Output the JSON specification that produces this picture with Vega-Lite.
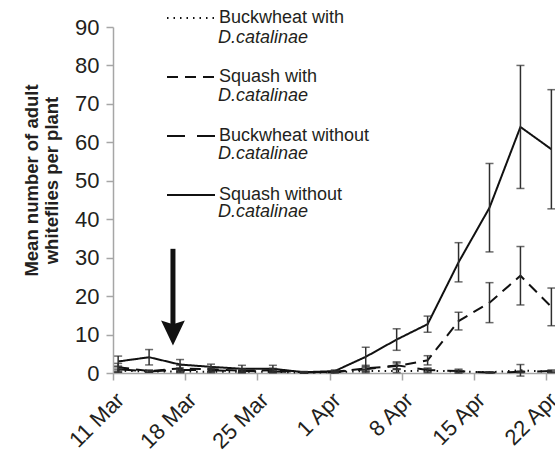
{
  "$schema": "https://vega.github.io/schema/vega-lite/v6.json",
  "width": 442,
  "height": 346,
  "autosize": "none",
  "padding": {"left": 113, "top": 27, "right": 0, "bottom": 79},
  "background": "white",
  "config": {
    "view": {"stroke": null},
    "font": "Liberation Sans",
    "axis": {
      "grid": false,
      "domainColor": "#a6a6a6",
      "domainWidth": 1.5,
      "tickColor": "#a6a6a6",
      "tickWidth": 1.5,
      "tickSize": 7,
      "labelFont": "Liberation Sans",
      "labelFontSize": 22,
      "labelColor": "#231f20",
      "labelOverlap": false,
      "titleFont": "Liberation Sans",
      "titleColor": "#231f20"
    },
    "axisY": {
      "labelPadding": 7,
      "titleFontSize": 18.5,
      "titleFontWeight": "bold",
      "titleAngle": -90,
      "titleBaseline": "top",
      "titleAlign": "center",
      "titleLineHeight": 20,
      "titleX": -91,
      "titleY": 153
    }
  },
  "datasets": {
    "counts": [
      {"date": "2013-03-11T12:00", "series": "Squash without", "mean": 3.0, "se": 1.4},
      {"date": "2013-03-14T12:00", "series": "Squash without", "mean": 4.1, "se": 2.0},
      {"date": "2013-03-17T12:00", "series": "Squash without", "mean": 2.2, "se": 1.3},
      {"date": "2013-03-20T12:00", "series": "Squash without", "mean": 1.6, "se": 0.7},
      {"date": "2013-03-23T12:00", "series": "Squash without", "mean": 1.1, "se": 0.9},
      {"date": "2013-03-26T12:00", "series": "Squash without", "mean": 1.1, "se": 0.9},
      {"date": "2013-03-29T12:00", "series": "Squash without", "mean": 0.2, "se": 0.2},
      {"date": "2013-04-01T12:00", "series": "Squash without", "mean": 0.5, "se": 0.3},
      {"date": "2013-04-04T12:00", "series": "Squash without", "mean": 4.2, "se": 2.5},
      {"date": "2013-04-07T12:00", "series": "Squash without", "mean": 8.7, "se": 2.8},
      {"date": "2013-04-10T12:00", "series": "Squash without", "mean": 12.7, "se": 2.1},
      {"date": "2013-04-13T12:00", "series": "Squash without", "mean": 28.8, "se": 5.1},
      {"date": "2013-04-16T12:00", "series": "Squash without", "mean": 43.0, "se": 11.5},
      {"date": "2013-04-19T12:00", "series": "Squash without", "mean": 64.0, "se": 16.0},
      {"date": "2013-04-22T12:00", "series": "Squash without", "mean": 58.2, "se": 15.5},

      {"date": "2013-03-11T12:00", "series": "Squash with", "mean": 1.5, "se": 1.0},
      {"date": "2013-03-14T12:00", "series": "Squash with", "mean": 0.5, "se": 0.3},
      {"date": "2013-03-17T12:00", "series": "Squash with", "mean": 1.2, "se": 0.8},
      {"date": "2013-03-20T12:00", "series": "Squash with", "mean": 1.0, "se": 0.6},
      {"date": "2013-03-23T12:00", "series": "Squash with", "mean": 0.6, "se": 0.5},
      {"date": "2013-03-26T12:00", "series": "Squash with", "mean": 0.7, "se": 0.5},
      {"date": "2013-03-29T12:00", "series": "Squash with", "mean": 0.2, "se": 0.1},
      {"date": "2013-04-01T12:00", "series": "Squash with", "mean": 0.3, "se": 0.2},
      {"date": "2013-04-04T12:00", "series": "Squash with", "mean": 1.2, "se": 0.8},
      {"date": "2013-04-07T12:00", "series": "Squash with", "mean": 1.8, "se": 0.8},
      {"date": "2013-04-10T12:00", "series": "Squash with", "mean": 3.3, "se": 1.2},
      {"date": "2013-04-13T12:00", "series": "Squash with", "mean": 13.5, "se": 2.3},
      {"date": "2013-04-16T12:00", "series": "Squash with", "mean": 18.3, "se": 5.2},
      {"date": "2013-04-19T12:00", "series": "Squash with", "mean": 25.3, "se": 7.6},
      {"date": "2013-04-22T12:00", "series": "Squash with", "mean": 17.2, "se": 4.9},

      {"date": "2013-03-11T12:00", "series": "Buckwheat without", "mean": 1.0, "se": 0.8},
      {"date": "2013-03-14T12:00", "series": "Buckwheat without", "mean": 0.4, "se": 0.2},
      {"date": "2013-03-17T12:00", "series": "Buckwheat without", "mean": 0.8, "se": 0.5},
      {"date": "2013-03-20T12:00", "series": "Buckwheat without", "mean": 0.7, "se": 0.4},
      {"date": "2013-03-23T12:00", "series": "Buckwheat without", "mean": 0.5, "se": 0.3},
      {"date": "2013-03-26T12:00", "series": "Buckwheat without", "mean": 0.4, "se": 0.3},
      {"date": "2013-03-29T12:00", "series": "Buckwheat without", "mean": 0.2, "se": 0.1},
      {"date": "2013-04-01T12:00", "series": "Buckwheat without", "mean": 0.2, "se": 0.1},
      {"date": "2013-04-04T12:00", "series": "Buckwheat without", "mean": 1.0, "se": 0.5},
      {"date": "2013-04-07T12:00", "series": "Buckwheat without", "mean": 2.0, "se": 0.9},
      {"date": "2013-04-10T12:00", "series": "Buckwheat without", "mean": 0.8, "se": 0.5},
      {"date": "2013-04-13T12:00", "series": "Buckwheat without", "mean": 0.5, "se": 0.5},
      {"date": "2013-04-16T12:00", "series": "Buckwheat without", "mean": 0.1, "se": 0.1},
      {"date": "2013-04-19T12:00", "series": "Buckwheat without", "mean": 0.3, "se": 0.2},
      {"date": "2013-04-22T12:00", "series": "Buckwheat without", "mean": 0.5, "se": 0.3},

      {"date": "2013-03-11T12:00", "series": "Buckwheat with", "mean": 0.6, "se": 0.4},
      {"date": "2013-03-14T12:00", "series": "Buckwheat with", "mean": 0.4, "se": 0.2},
      {"date": "2013-03-17T12:00", "series": "Buckwheat with", "mean": 0.4, "se": 0.3},
      {"date": "2013-03-20T12:00", "series": "Buckwheat with", "mean": 0.3, "se": 0.2},
      {"date": "2013-03-23T12:00", "series": "Buckwheat with", "mean": 0.3, "se": 0.2},
      {"date": "2013-03-26T12:00", "series": "Buckwheat with", "mean": 0.3, "se": 0.2},
      {"date": "2013-03-29T12:00", "series": "Buckwheat with", "mean": 0.1, "se": 0.1},
      {"date": "2013-04-01T12:00", "series": "Buckwheat with", "mean": 0.2, "se": 0.1},
      {"date": "2013-04-04T12:00", "series": "Buckwheat with", "mean": 0.5, "se": 0.4},
      {"date": "2013-04-07T12:00", "series": "Buckwheat with", "mean": 0.5, "se": 0.4},
      {"date": "2013-04-10T12:00", "series": "Buckwheat with", "mean": 0.6, "se": 0.5},
      {"date": "2013-04-13T12:00", "series": "Buckwheat with", "mean": 0.4, "se": 0.3},
      {"date": "2013-04-16T12:00", "series": "Buckwheat with", "mean": 0.2, "se": 0.1},
      {"date": "2013-04-19T12:00", "series": "Buckwheat with", "mean": 0.7, "se": 1.5},
      {"date": "2013-04-22T12:00", "series": "Buckwheat with", "mean": 0.3, "se": 0.2}
    ],
    "arrow": [
      {"date": "2013-03-16T19:30", "top": 32.3, "bottom": 10.4}
    ]
  },
  "encoding": {
    "x": {
      "field": "date",
      "type": "temporal",
      "scale": {
        "domain": [
          {"year": 2013, "month": 3, "date": 11},
          {"year": 2013, "month": 4, "date": 22, "hours": 20, "minutes": 24}
        ],
        "nice": false
      },
      "axis": {
        "title": null,
        "values": [
          {"year": 2013, "month": 3, "date": 11},
          {"year": 2013, "month": 3, "date": 18},
          {"year": 2013, "month": 3, "date": 25},
          {"year": 2013, "month": 4, "date": 1},
          {"year": 2013, "month": 4, "date": 8},
          {"year": 2013, "month": 4, "date": 15},
          {"year": 2013, "month": 4, "date": 22}
        ],
        "format": "%-d %b",
        "labelAngle": -45,
        "labelPadding": 9
      }
    }
  },
  "layer": [
    {
      "data": {"name": "counts"},
      "mark": {"type": "line", "strokeWidth": 2},
      "encoding": {
        "y": {
          "field": "mean",
          "type": "quantitative",
          "scale": {"domain": [0, 90], "nice": false},
          "axis": {
            "values": [0, 10, 20, 30, 40, 50, 60, 70, 80, 90],
            "title": ["Mean number of adult", "whiteflies per plant"]
          }
        },
        "strokeDash": {
          "field": "series",
          "type": "nominal",
          "scale": {
            "domain": ["Buckwheat with", "Squash with", "Buckwheat without", "Squash without"],
            "range": [[1.5, 5], [11, 7], [18, 12], [1, 0]]
          },
          "legend": {
            "orient": "none",
            "legendX": 53,
            "legendY": -34,
            "title": null,
            "symbolType": "stroke",
            "symbolSize": 2304,
            "symbolStrokeWidth": 2,
            "symbolStrokeColor": "#111111",
            "labelFont": "Liberation Sans",
            "labelFontSize": 18,
            "labelColor": "#231f20",
            "labelOffset": 3,
            "labelLimit": 300,
            "rowPadding": 25
          }
        },
        "color": {
          "field": "series",
          "type": "nominal",
          "sort": ["Buckwheat with", "Squash with", "Buckwheat without", "Squash without"],
          "scale": {"range": ["#111111", "#111111", "#111111", "#111111"]},
          "legend": {
            "orient": "none",
            "legendX": 54,
            "legendY": -13,
            "title": null,
            "symbolType": "stroke",
            "symbolSize": 2304,
            "symbolStrokeWidth": 0,
            "symbolOpacity": 0,
            "labelExpr": "'D.catalinae'",
            "labelFont": "Liberation Sans",
            "labelFontStyle": "italic",
            "labelFontSize": 18,
            "labelColor": "#231f20",
            "labelOffset": 3,
            "rowPadding": 25
          }
        }
      }
    },
    {
      "data": {"name": "counts"},
      "mark": {"type": "errorbar", "color": "#2e2e2e", "thickness": 1.5, "ticks": {"size": 8, "thickness": 1.5}},
      "encoding": {
        "y": {
          "field": "mean",
          "type": "quantitative",
          "axis": {
            "values": [0, 10, 20, 30, 40, 50, 60, 70, 80, 90],
            "title": ["Mean number of adult", "whiteflies per plant"]
          }
        },
        "yError": {"field": "se"},
        "detail": {"field": "series", "type": "nominal"}
      }
    },
    {
      "data": {"name": "arrow"},
      "mark": {"type": "rule", "strokeWidth": 5, "color": "#111111"},
      "encoding": {
        "y": {
          "field": "top",
          "type": "quantitative",
          "axis": {
            "values": [0, 10, 20, 30, 40, 50, 60, 70, 80, 90],
            "title": ["Mean number of adult", "whiteflies per plant"]
          }
        },
        "y2": {"field": "bottom"}
      }
    },
    {
      "data": {"name": "arrow"},
      "mark": {"type": "point", "shape": "M-0.95,-1L0,1L0.95,-1L0,-0.7Z", "size": 625, "filled": true, "opacity": 1, "color": "#111111"},
      "encoding": {
        "y": {
          "field": "bottom",
          "type": "quantitative",
          "axis": {
            "values": [0, 10, 20, 30, 40, 50, 60, 70, 80, 90],
            "title": ["Mean number of adult", "whiteflies per plant"]
          }
        }
      }
    }
  ]
}
